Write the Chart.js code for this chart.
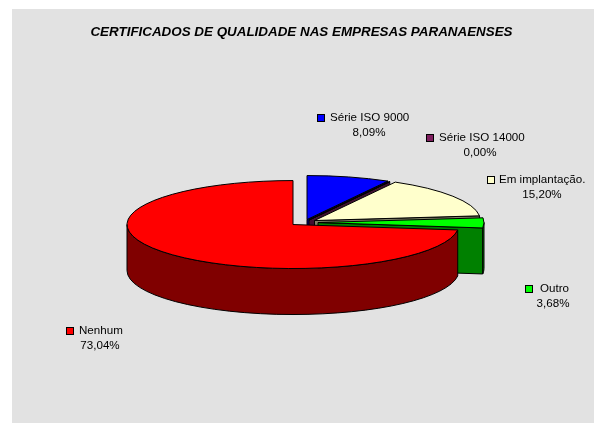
<!DOCTYPE html>
<html>
<head>
<meta charset="utf-8">
<style>
html,body{margin:0;padding:0;background:#fff;}
#wrap{position:absolute;left:12px;top:9px;width:582px;height:414px;background:#E2E2E2;}
canvas{display:block;}
</style>
<script src="https://cdn.jsdelivr.net/npm/chart.js@4/dist/chart.umd.min.js"></script>
</head>
<body>
<div id="wrap"><canvas id="c" width="582" height="414"></canvas></div>
<script>
const titleText = "CERTIFICADOS DE QUALIDADE NAS EMPRESAS PARANAENSES";
const categories = ["Série ISO 9000", "Série ISO 14000", "Em implantação.", "Outro", "Nenhum"];
const percentValues = [8.09, 0.00, 15.20, 3.68, 73.04];
const topColors = ["#0000FF", "#7F1F5F", "#FFFFCC", "#00FF00", "#FF0000"];
const sideColors = ["#000080", "#400F30", "#808066", "#008000", "#800000"];

// Appearance of the 3D projection (styling, not data)
const tilt = 0.265, depth = 46, pieRadius = 166, pieShiftX = -8.5;
const explode = [[14, -5], [16, -4.5], [21.5, -4], [25, -2], [0, 0]];
// Label anchors in canvas pixels: marker left, marker top, percentage centre x, text gap
const labelBoxes = [[305, 105, 357, 13], [414, 125, 468, 13], [475, 167, 530, 12], [513, 276, 541, 15], [54, 318, 88, 13]];

const pie3d = {
  id: "pie3d",
  beforeDatasetsDraw(chart) {
    const ctx = chart.ctx;
    const arcs = chart.getDatasetMeta(0).data;
    const EPS = 1e-6;
    ctx.save();
    ctx.lineJoin = "round";
    ctx.lineWidth = 1;
    ctx.strokeStyle = "#000";
    arcs.forEach((arc, i) => {
      const p = arc.getProps(["x", "y", "startAngle", "endAngle", "outerRadius"], true);
      const cx = p.x + pieShiftX + explode[i][0], cy = p.y + explode[i][1];
      const r = p.outerRadius, a0 = p.startAngle, a1 = p.endAngle;
      const pt = (a, dy) => [cx + r * Math.cos(a), cy + r * Math.sin(a) * tilt + (dy || 0)];
      const fill = (color) => { ctx.fillStyle = color; ctx.fill(); ctx.stroke(); };
      const face = (a) => {
        const q = pt(a), b = pt(a, depth);
        ctx.beginPath();
        ctx.moveTo(cx, cy); ctx.lineTo(q[0], q[1]); ctx.lineTo(b[0], b[1]); ctx.lineTo(cx, cy + depth);
        ctx.closePath();
        fill(sideColors[i]);
      };
      // radial cut faces turned towards the viewer
      if (Math.cos(a1) > EPS) face(a1);
      if (Math.cos(a0) < -EPS) face(a0);
      // outer wall: only the part on the near half of the rim
      const w0 = Math.max(a0, 0), w1 = Math.min(a1, Math.PI);
      if (w1 > w0) {
        ctx.beginPath();
        ctx.ellipse(cx, cy, r, r * tilt, 0, w0, w1, false);
        ctx.ellipse(cx, cy + depth, r, r * tilt, 0, w1, w0, true);
        ctx.closePath();
        fill(sideColors[i]);
      }
      // top face
      ctx.beginPath();
      ctx.moveTo(cx, cy);
      ctx.ellipse(cx, cy, r, r * tilt, 0, a0, a1, false);
      ctx.closePath();
      fill(topColors[i]);
    });
    ctx.restore();
    return false;
  },
  afterDraw(chart) {
    const ctx = chart.ctx;
    const ds = chart.data.datasets[0].data;
    ctx.save();
    ctx.font = "11.6px 'Liberation Sans', Arial, sans-serif";
    ctx.textBaseline = "middle";
    chart.data.labels.forEach((label, i) => {
      const [mx, my, pc, gap] = labelBoxes[i];
      ctx.fillStyle = topColors[i];
      ctx.strokeStyle = "#000";
      ctx.lineWidth = 1;
      ctx.fillRect(mx + 0.5, my + 0.5, 7, 7);
      ctx.strokeRect(mx + 0.5, my + 0.5, 7, 7);
      ctx.fillStyle = "#000";
      ctx.textAlign = "left";
      ctx.fillText(label, mx + gap, my + 4);
      ctx.textAlign = "center";
      ctx.fillText(ds[i].toFixed(2).replace(".", ",") + "%", pc, my + 19);
    });
    ctx.restore();
  }
};

new Chart(document.getElementById("c"), {
  type: "pie",
  data: {
    labels: categories,
    datasets: [{ data: percentValues, backgroundColor: topColors, borderColor: "#000", borderWidth: 1 }]
  },
  options: {
    responsive: false,
    animation: false,
    radius: pieRadius,
    layout: { padding: { left: 0, right: 3, top: 0, bottom: 14 } },
    plugins: {
      legend: { display: false },
      tooltip: { enabled: false },
      title: {
        display: true,
        text: titleText,
        color: "#000",
        font: { family: "'Liberation Sans', Arial, sans-serif", size: 13.4, style: "italic", weight: "bold" },
        padding: { top: 15, bottom: 0 }
      }
    }
  },
  plugins: [pie3d]
});
</script>
</body>
</html>
